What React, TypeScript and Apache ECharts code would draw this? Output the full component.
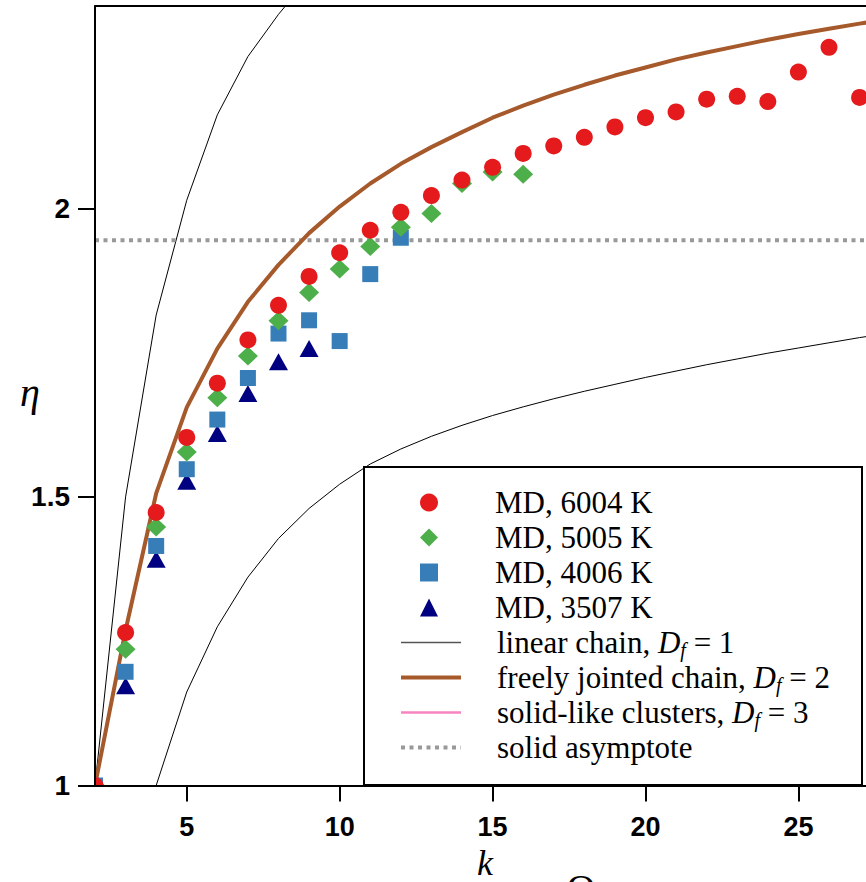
import React, { useEffect, useRef } from "react";
import * as echarts from "echarts";

// MD simulation data (k = cluster size, eta)
const k6004 = [2, 3, 4, 5, 6, 7, 8, 9, 10, 11, 12, 13, 14, 15, 16, 17, 18, 19, 20, 21, 22, 23, 24, 25, 26, 27];
const md6004 = [1.0, 1.265, 1.473, 1.603, 1.697, 1.772, 1.832, 1.882, 1.923, 1.962, 1.993, 2.022, 2.049, 2.071, 2.095, 2.108, 2.123, 2.141, 2.157, 2.167, 2.189, 2.194, 2.185, 2.236, 2.279, 2.192];
const k5005 = [2, 3, 4, 5, 6, 7, 8, 9, 10, 11, 12, 13, 14, 15, 16];
const md5005 = [1.0, 1.236, 1.448, 1.578, 1.672, 1.744, 1.805, 1.854, 1.895, 1.934, 1.967, 1.991, 2.043, 2.063, 2.059];
const k4006 = [2, 3, 4, 5, 6, 7, 8, 9, 10, 11, 12];
const md4006 = [1.0, 1.197, 1.415, 1.548, 1.634, 1.706, 1.783, 1.806, 1.770, 1.886, 1.949];
const k3507 = [2, 3, 4, 5, 6, 7, 8, 9];
const md3507 = [1.0, 1.173, 1.392, 1.527, 1.61, 1.679, 1.734, 1.757];

// model curves
const kLinear = [2, 3, 4, 5, 6, 7, 8, 9];
const etaLinear = [1.0, 1.5, 1.815, 2.014, 2.162, 2.263, 2.336, 2.4];
const kFree = [2, 3, 4, 5, 6, 7, 8, 9, 10, 11, 12, 13, 14, 15, 16, 17, 18, 19, 20, 21, 22, 23, 24, 25, 26, 27, 28];
const etaFree = [1.0, 1.269, 1.506, 1.655, 1.757, 1.838, 1.902, 1.957, 2.003, 2.043, 2.077, 2.106, 2.132, 2.157, 2.178, 2.197, 2.214, 2.23, 2.244, 2.258, 2.27, 2.281, 2.292, 2.302, 2.311, 2.32, 2.328];
const kLower = [4, 5, 6, 7, 8, 9, 10, 11, 12, 13, 14, 15, 16, 17, 18, 19, 20, 21, 22, 23, 24, 25, 26, 27, 28];
const etaLower = [1.0, 1.162, 1.275, 1.361, 1.428, 1.48, 1.522, 1.557, 1.583, 1.605, 1.624, 1.641, 1.656, 1.67, 1.683, 1.695, 1.707, 1.718, 1.729, 1.739, 1.749, 1.758, 1.767, 1.776, 1.784];
const kAsym = [2, 28];
const etaAsym = [1.9447, 1.9447];

const xTicks = [5, 10, 15, 20, 25];
const yTicks = [1, 1.5, 2];

const markerNames = ["MD, 6004 K", "MD, 5005 K", "MD, 4006 K", "MD, 3507 K"];
const lineNames = ["linear chain", "freely jointed chain", "solid-like clusters", "solid asymptote"];
const legendLabels: Record<string, string> = {
  "MD, 6004 K": "{sp| }{t|MD, 6004 K}",
  "MD, 5005 K": "{sp| }{t|MD, 5005 K}",
  "MD, 4006 K": "{sp| }{t|MD, 4006 K}",
  "MD, 3507 K": "{sp| }{t|MD, 3507 K}",
  "linear chain": "{sq| }{t|linear chain, }{i|D}{s|f}{t| = 1}",
  "freely jointed chain": "{sq| }{t|freely jointed chain, }{i|D}{s|f}{t| = 2}",
  "solid-like clusters": "{sq| }{t|solid-like clusters, }{i|D}{s|f}{t| = 3}",
  "solid asymptote": "{sq| }{t|solid asymptote}",
};

const zip = (xs: number[], ys: number[]) => xs.map((x, i) => [x, ys[i]]);

export default function App() {
  const ref = useRef<HTMLDivElement>(null);
  useEffect(() => {
    if (!ref.current) return;
    const chart = echarts.init(ref.current, undefined, { renderer: "svg" });
    const serif = "'Liberation Serif', 'Times New Roman', serif";
    const sans = "'Liberation Sans', Arial, sans-serif";
    const axisCommon = {
      type: "value" as const,
      min: 2,
      max: 27.21,
      splitLine: { show: false },
      z: 10,
    };
    const rich = {
      sp: { width: 52, fontSize: 31, lineHeight: 35 },
      sq: { width: 31, fontSize: 31, lineHeight: 35 },
      t: { fontFamily: serif, fontSize: 31, color: "#000", lineHeight: 35 },
      i: { fontFamily: serif, fontSize: 31, fontStyle: "italic", color: "#000", lineHeight: 35 },
      s: { fontFamily: serif, fontSize: 20, fontStyle: "italic", color: "#000", lineHeight: 14, verticalAlign: "bottom" },
    };
    const legendText = { fontFamily: serif, fontSize: 31, color: "#000", lineHeight: 35, rich };
    const hidden = { color: "rgba(0,0,0,0)", opacity: 0, borderWidth: 0 };
    chart.setOption({
      animation: false,
      backgroundColor: "#fff",
      grid: { left: 95, right: 0, top: 6, bottom: 96.5, containLabel: false },
      xAxis: [
        {
          ...axisCommon,
          position: "bottom",
          axisLine: { show: true, onZero: false, lineStyle: { color: "#000", width: 2 } },
          axisTick: { show: true, inside: false, length: 16, customValues: xTicks, lineStyle: { color: "#000", width: 2 } },
          axisLabel: { customValues: xTicks, fontSize: 27, fontWeight: "bold", fontFamily: sans, color: "#000", margin: 28 },
        },
        {
          ...axisCommon,
          position: "top",
          axisLine: { show: true, onZero: false, lineStyle: { color: "#000", width: 2 } },
          axisTick: { show: false },
          axisLabel: { show: false },
        },
      ],
      yAxis: {
        type: "value",
        min: 1,
        max: 2.3505,
        z: 10,
        splitLine: { show: false },
        axisLine: { show: true, onZero: false, lineStyle: { color: "#000", width: 2 } },
        axisTick: { show: true, inside: false, length: 17, customValues: yTicks, lineStyle: { color: "#000", width: 2 } },
        axisLabel: { customValues: yTicks, fontSize: 28, fontWeight: "bold", fontFamily: sans, color: "#000", margin: 25 },
      },
      legend: [
        {
          orient: "vertical",
          left: 420,
          top: 485,
          padding: 0,
          itemGap: 0,
          itemWidth: 18,
          itemHeight: 18,
          selectedMode: false,
          z: 12,
          data: markerNames,
          formatter: (name: string) => legendLabels[name],
          textStyle: legendText,
        },
        {
          orient: "vertical",
          left: 399,
          top: 625,
          padding: 0,
          itemGap: 0,
          itemWidth: 60,
          itemHeight: 18,
          selectedMode: false,
          z: 12,
          data: [
            { name: lineNames[0], itemStyle: hidden, lineStyle: { color: "#555", width: 1.5 } },
            { name: lineNames[1], itemStyle: hidden, lineStyle: { color: "#A65A2C", width: 4 } },
            { name: lineNames[2], itemStyle: hidden, lineStyle: { color: "#F783C0", width: 2.5 } },
            { name: lineNames[3], itemStyle: hidden, lineStyle: { color: "#999", width: 4, type: [4, 4.5] } },
          ],
          formatter: (name: string) => legendLabels[name],
          textStyle: legendText,
        },
      ],
      graphic: [
        { type: "rect", z: 5, shape: { x: 0, y: 0, width: 94, height: 882 }, style: { fill: "#fff" }, silent: true },
        { type: "rect", z: 5, shape: { x: 0, y: 786.5, width: 866, height: 96 }, style: { fill: "#fff" }, silent: true },
        { type: "rect", z: 6, shape: { x: 364, y: 467, width: 498, height: 318 }, style: { fill: "#fff", stroke: "#000", lineWidth: 2 }, silent: true },
        { type: "text", z: 20, x: 30, y: 392, style: { text: "η", font: `italic 40px ${serif}`, fill: "#000", align: "center", verticalAlign: "middle" } },
        { type: "text", z: 20, x: 485, y: 881, style: { text: "k", font: `italic 36px ${serif}`, fill: "#000", align: "center", verticalAlign: "bottom" } },
        { type: "text", z: 20, x: 581, y: 888, style: { text: "Q", font: `40px ${serif}`, fill: "#000", align: "center", verticalAlign: "middle" } },
      ],
      series: [
        {
          name: "linear chain",
          type: "line",
          data: zip(kLinear, etaLinear),
          symbol: "none",
          lineStyle: { color: "#000", width: 1 },
          itemStyle: { color: "#444" },
          z: 2,
        },
        {
          name: "lower curve",
          type: "line",
          data: zip(kLower, etaLower),
          symbol: "none",
          lineStyle: { color: "#000", width: 1 },
          z: 2,
        },
        {
          name: "solid-like clusters",
          type: "line",
          data: [],
          symbol: "none",
          lineStyle: { color: "#F783C0", width: 2 },
          itemStyle: { color: "#F783C0" },
        },
        {
          name: "solid asymptote",
          type: "line",
          data: zip(kAsym, etaAsym),
          symbol: "none",
          lineStyle: { color: "#999", width: 4, type: [4, 4.5] },
          itemStyle: { color: "#999" },
          z: 2,
        },
        {
          name: "freely jointed chain",
          type: "line",
          data: zip(kFree, etaFree),
          symbol: "none",
          lineStyle: { color: "#A65A2C", width: 4 },
          itemStyle: { color: "#A65A2C" },
          z: 2,
        },
        {
          name: "MD, 3507 K",
          type: "scatter",
          data: zip(k3507, md3507),
          symbol: "triangle",
          symbolSize: [19, 17],
          itemStyle: { color: "#000080", opacity: 1 },
          z: 3,
        },
        {
          name: "MD, 4006 K",
          type: "scatter",
          data: zip(k4006, md4006),
          symbol: "rect",
          symbolSize: 16,
          itemStyle: { color: "#377EB8", opacity: 1 },
          z: 3,
        },
        {
          name: "MD, 5005 K",
          type: "scatter",
          data: zip(k5005, md5005),
          symbol: "diamond",
          symbolSize: [20, 19],
          itemStyle: { color: "#4DAF4A", opacity: 1 },
          z: 3,
        },
        {
          name: "MD, 6004 K",
          type: "scatter",
          data: zip(k6004, md6004),
          symbol: "circle",
          symbolSize: 17,
          itemStyle: { color: "#E41A1C", opacity: 1 },
          z: 3,
        },
      ],
    });
    return () => chart.dispose();
  }, []);
  return (
    <div
      ref={ref}
      style={{ position: "absolute", left: 0, top: 0, width: 866, height: 882 }}
    />
  );
}
